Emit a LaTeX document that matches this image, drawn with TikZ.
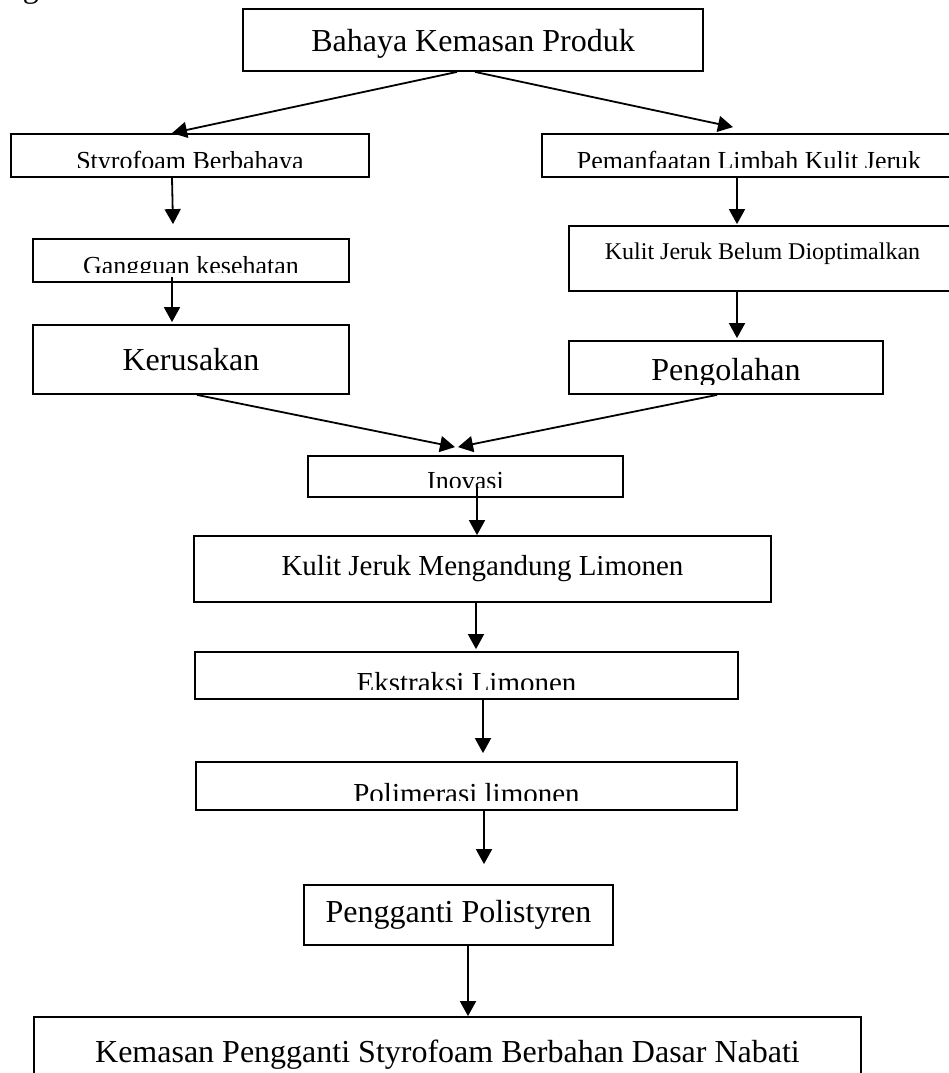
\documentclass[tikz,border=0pt]{standalone}
\usepackage{fontspec}
\setmainfont{Liberation Serif}
\usetikzlibrary{arrows.meta, positioning, calc}

\newcommand{\fsz}[1]{\fontsize{#1}{#1}\selectfont}

\begin{document}
\begin{tikzpicture}[x=1pt, y=-1pt,
  box/.style={rectangle, draw, line width=0.9pt, inner sep=0pt},
  cuttext/.style n args={3}{path picture={
      \clip ([yshift=5pt]path picture bounding box.south west) rectangle (path picture bounding box.north east);
      \node[anchor=base, inner sep=0pt, font=\fsz{#1}] at ([yshift=-#2]path picture bounding box.north) {#3};}},
  arrow/.style={-{Triangle[length=7.5pt, width=8pt]}, line width=0.9pt},
]

\clip (0,0) rectangle (474.5,536.5);

\node[font=\fsz{16}, anchor=base] (frag) at (15.5,-1.5) {g};

\node[box, minimum width=230pt, minimum height=31pt, font=\fsz{16}, text depth=0pt] (bahaya) at (236.5,20) {Bahaya Kemasan Produk};
\node[box, minimum width=179pt, minimum height=21.5pt, cuttext={13}{17.75pt}{Styrofoam Berbahaya}] (styro) at (95,77.75) {};
\node[box, minimum width=207pt, minimum height=21.5pt, cuttext={13}{17.75pt}{Pemanfaatan Limbah Kulit Jeruk}] (manfaat) at (374.5,77.75) {};
\node[box, minimum width=158pt, minimum height=21.5pt, cuttext={13}{17.75pt}{Gangguan kesehatan}] (gangguan) at (95.5,130.25) {};
\node[box, minimum width=158pt, minimum height=34.5pt, font=\fsz{16}] (rusak) at (95.5,179.75) {Kerusakan};
\node[box, minimum width=193.5pt, minimum height=32.5pt, cuttext={12}{16.5pt}{Kulit Jeruk Belum Dioptimalkan}] (belum) at (381.25,129.25) {};
\node[box, minimum width=157pt, minimum height=26.5pt, cuttext={16}{19.5pt}{Pengolahan}] (olah) at (363,183.75) {};
\node[box, minimum width=157.5pt, minimum height=20.5pt, cuttext={13}{16.5pt}{Inovasi}] (inovasi) at (232.75,238.25) {};
\node[box, minimum width=288.5pt, minimum height=33pt, font=\fsz{14.5}] (limonen) at (241.25,284.5) {Kulit Jeruk Mengandung Limonen};
\node[box, minimum width=271.5pt, minimum height=23.5pt, cuttext={14.5}{20pt}{Ekstraksi Limonen}] (ekstraksi) at (233.25,337.75) {};
\node[box, minimum width=270.5pt, minimum height=24pt, cuttext={14.5}{20.5pt}{Polimerasi limonen}] (polimer) at (233.25,393) {};
\node[box, minimum width=154.5pt, minimum height=30pt, font=\fsz{16}] (pengganti) at (229.25,457.5) {Pengganti Polistyren};
\node[box, minimum width=413.5pt, minimum height=38pt, font=\fsz{16}] (kemasan) at (223.75,527.5) {Kemasan Pengganti Styrofoam Berbahan Dasar Nabati};

% left branch
\draw[arrow] ([xshift=-8pt]bahaya.south) -- ([xshift=-9pt]styro.north);
\draw[arrow] ([xshift=-9pt]styro.south) -- ([xshift=-9pt, yshift=7pt]gangguan.north);
\draw[arrow] ([xshift=-9.5pt, yshift=3pt]gangguan.south) -- ([xshift=-9.5pt, yshift=1pt]rusak.north);

% right branch
\draw[arrow] ([xshift=1pt]bahaya.south) -- ([xshift=-8pt, yshift=3pt]manfaat.north);
\draw[arrow] ([xshift=-6pt]manfaat.south) -- ([xshift=-12.75pt, yshift=0.5pt]belum.north);
\draw[arrow] ([xshift=-12.75pt]belum.south) -- ([xshift=5.5pt, yshift=1pt]olah.north);

% join
\draw[arrow] ([xshift=3pt]rusak.south) -- ([xshift=-5.25pt, yshift=4pt]inovasi.north);
\draw[arrow] ([xshift=-4.5pt]olah.south) -- ([xshift=-3.75pt, yshift=4pt]inovasi.north);

% main column
\draw[arrow] ([xshift=5.75pt, yshift=6pt]inovasi.south) -- ([xshift=-2.75pt]limonen.north);
\draw[arrow] ([xshift=-3.25pt]limonen.south) -- ([xshift=4.75pt, yshift=1pt]ekstraksi.north);
\draw[arrow] ([xshift=8.25pt]ekstraksi.south) -- ([xshift=8.25pt, yshift=4pt]polimer.north);
\draw[arrow] ([xshift=8.75pt]polimer.south) -- ([xshift=12.75pt, yshift=10pt]pengganti.north);
\draw[arrow] ([xshift=4.75pt]pengganti.south) -- ([xshift=10.25pt]kemasan.north);

\end{tikzpicture}
\end{document}
